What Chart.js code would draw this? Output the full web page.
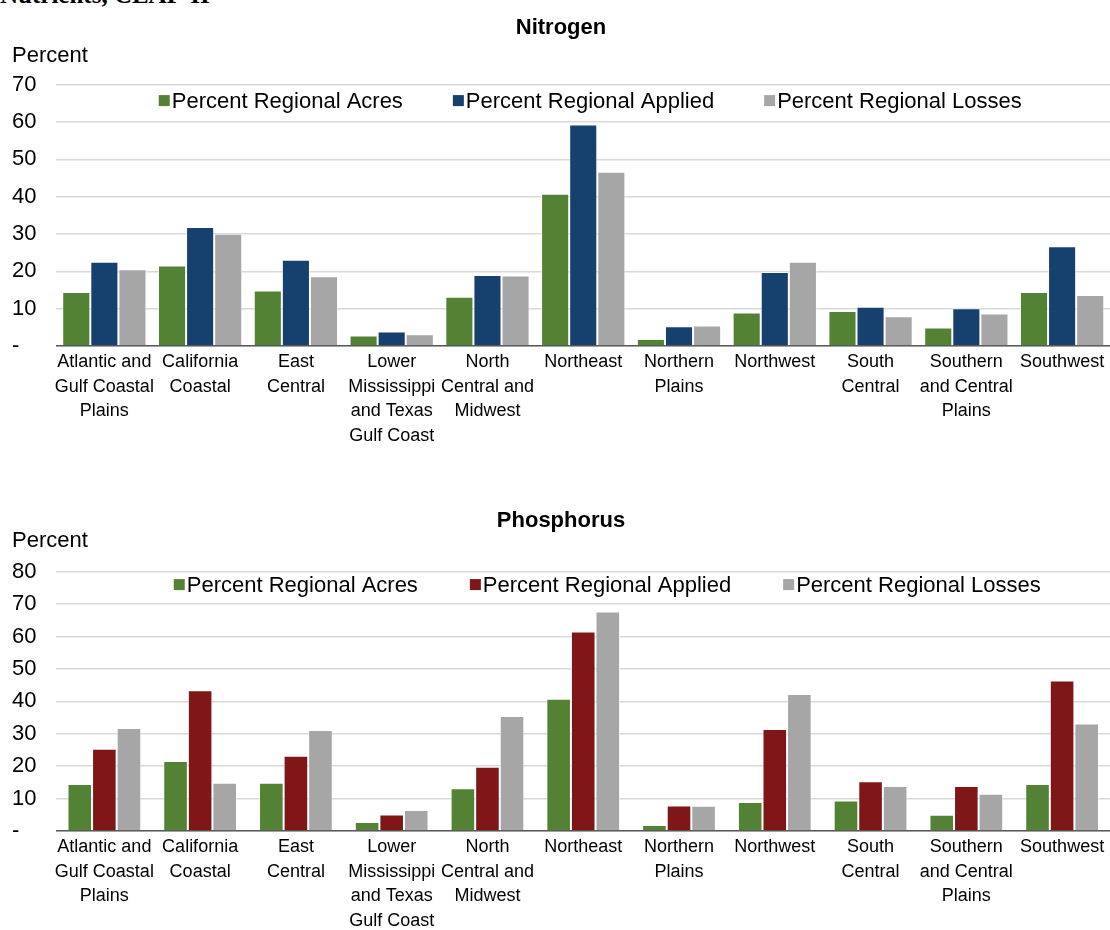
<!DOCTYPE html>
<html>
<head>
<meta charset="utf-8">
<script src="https://cdn.jsdelivr.net/npm/chart.js@4.4.1/dist/chart.umd.min.js"></script>
<style>
  html, body { margin: 0; padding: 0; background: #fff; overflow: hidden; width: 1110px; height: 930px; }
  #cap { position: absolute; left: 0; top: -19px; font: bold 25px 'Liberation Serif', serif; color: #000; white-space: nowrap; }
  .box { position: absolute; left: 0; width: 1110px; }
  #box-n { top: 0; height: 460px; }
  #box-p { top: 465px; height: 472px; }
</style>
</head>
<body>
<div id="cap">Nutrients, CEAP-II</div>
<div class="box" id="box-n"><canvas id="chart-n"></canvas></div>
<div class="box" id="box-p"><canvas id="chart-p"></canvas></div>
<script>
var green = '#548235';
var navy = '#16406e';
var maroon = '#7f1719';
var grey = '#a6a6a6';
var gridColor = '#d9d9d9';

var regions = [
  ['Atlantic and', 'Gulf Coastal', 'Plains'],
  ['California', 'Coastal'],
  ['East', 'Central'],
  ['Lower', 'Mississippi', 'and Texas', 'Gulf Coast'],
  ['North', 'Central and', 'Midwest'],
  'Northeast',
  ['Northern', 'Plains'],
  'Northwest',
  ['South', 'Central'],
  ['Southern', 'and Central', 'Plains'],
  'Southwest'
];

var seriesNames = ['Percent Regional Acres', 'Percent Regional Applied', 'Percent Regional Losses'];

// share of regional cropland acres (same in both panels)
var acres = [14.5, 21.6, 14.9, 2.8, 13.2, 40.8, 1.9, 9.0, 9.4, 5.0, 14.5];

// nitrogen
var nApplied = [22.6, 31.9, 23.1, 3.9, 19.0, 59.3, 5.3, 19.8, 10.5, 10.1, 26.7];
var nLosses = [20.6, 30.1, 18.7, 3.2, 18.9, 46.7, 5.5, 22.6, 8.0, 8.7, 13.7];

// phosphorus
var pApplied = [25.4, 43.4, 23.2, 5.1, 19.8, 61.5, 7.9, 31.5, 15.4, 13.9, 46.4];
var pLosses = [31.8, 14.9, 31.2, 6.5, 35.5, 67.7, 7.8, 42.3, 13.9, 11.5, 33.2];

var sans = "'Liberation Sans', Arial, sans-serif";

// one-row legend drawn inside the plot, near the top
var innerLegend = {
  id: 'innerLegend',
  afterDraw: function(chart, args, opts) {
    var ctx = chart.ctx;
    var area = chart.chartArea;
    var sets = chart.data.datasets;
    ctx.save();
    ctx.font = '22px ' + sans;
    ctx.textBaseline = 'middle';
    ctx.textAlign = 'left';
    var total = 0;
    var widths = sets.map(function(d) { return ctx.measureText(d.label).width; });
    widths.forEach(function(w) { total += 13 + w; });
    total += opts.gap * (sets.length - 1);
    var x = (area.left + area.right) / 2 + opts.shift - total / 2;
    var y = area.top + opts.dy;
    sets.forEach(function(d, i) {
      ctx.fillStyle = d.backgroundColor;
      ctx.fillRect(x, y - 5.5, 11, 11);
      ctx.fillStyle = '#000';
      ctx.fillText(d.label, x + 13, y + 1);
      x += 13 + widths[i] + opts.gap;
    });
    ctx.restore();
  }
};

function bars(label, data, color) {
  return { label: label, data: data, backgroundColor: color, borderColor: 'rgba(255,255,255,0.55)', borderWidth: 1, borderSkipped: 'bottom' };
}

function makePanel(id, title, applyColor, applied, losses, yMax, o) {
  new Chart(document.getElementById(id).getContext('2d'), {
    type: 'bar',
    data: {
      labels: regions,
      datasets: [
        bars(seriesNames[0], acres, green),
        bars(seriesNames[1], applied, applyColor),
        bars(seriesNames[2], losses, grey)
      ]
    },
    plugins: [innerLegend],
    options: {
      responsive: true, maintainAspectRatio: false, animation: false,
      categoryPercentage: o.catPct, barPercentage: 1,
      layout: { padding: { top: o.top, left: 12, right: 0, bottom: o.bottom } },
      plugins: {
        title: { display: true, text: title, color: '#000', font: { family: sans, size: 22, weight: 'bold', lineHeight: 0.9 }, padding: { top: 0, bottom: o.titleGap } },
        subtitle: { display: true, text: 'Percent', align: 'start', color: '#000', font: { family: sans, size: 22, lineHeight: 0.9 }, padding: { top: 0, bottom: o.subGap } },
        legend: { display: false },
        innerLegend: { gap: o.legGap, shift: o.legShift, dy: o.legDy },
        tooltip: { enabled: false }
      },
      scales: {
        x: {
          grid: { display: false, drawTicks: false },
          border: { display: true, color: '#595959', width: 1.5 },
          ticks: { color: '#000', font: { family: sans, size: 18, lineHeight: 1.36 }, padding: 4, maxRotation: 0, autoSkip: false }
        },
        y: {
          min: 0, max: yMax,
          grid: { color: gridColor, lineWidth: 1.5, drawTicks: false },
          border: { display: false },
          ticks: {
            stepSize: 10, color: '#000', crossAlign: 'far', padding: 10,
            font: { family: sans, size: 22 },
            callback: function(v) { return v === 0 ? '-' : v; }
          }
        }
      }
    }
  });
}

makePanel('chart-n', 'Nitrogen', navy, nApplied, nLosses, 70, { top: 18, bottom: 8, titleGap: 8, subGap: 19, catPct: 0.88, legGap: 50, legShift: 7, legDy: 16 });
makePanel('chart-p', 'Phosphorus', maroon, pApplied, pLosses, 80, { top: 46, bottom: 0, titleGap: 0, subGap: 21, catPct: 0.77, legGap: 52, legShift: 24, legDy: 13 });
</script>
</body>
</html>
